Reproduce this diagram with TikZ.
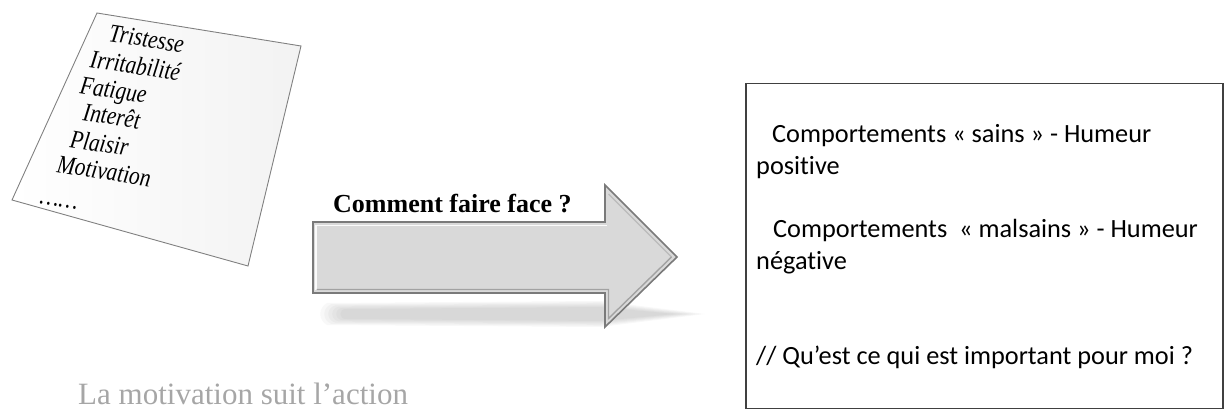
\documentclass[tikz,border=0pt]{standalone}
\usepackage{fontspec}
\setmainfont{Liberation Serif}
\newfontfamily\calib[Ligatures=NoCommon]{Carlito}
\definecolor{arrowfill}{HTML}{D9D9D9}
\definecolor{arrowedge}{HTML}{7A7A7A}
\definecolor{boxedge}{HTML}{404040}
\definecolor{captiongray}{HTML}{A6A6A6}
\definecolor{paperedge}{HTML}{808080}
\tikzset{
  listitem/.style={anchor=base west, inner sep=0pt, rotate=-9, yscale=1.2,
    font=\fontsize{21.5}{25}\selectfont\itshape},
  boxtext/.style={anchor=base west, inner sep=0pt,
    font=\calib\fontsize{26.3}{31}\selectfont},
  arrowshape/.style={fill=arrowfill, draw=arrowedge, line width=1.6pt, line join=miter},
  shadowlayer/.style={fill=black, draw=none},
}
\begin{document}
\begin{tikzpicture}[x=1pt,y=-1pt]
\useasboundingbox (0,0) rectangle (1224,411);

% ---- paper sheet ----
\coordinate (pTL) at (97,13);
\coordinate (pTR) at (301,46);
\coordinate (pBR) at (248,266);
\coordinate (pBL) at (12,200);
\shade[left color=white, right color=black!5] (pTL) -- (pTR) -- (pBR) -- (pBL) -- cycle;
\draw[paperedge, line width=0.9pt] (pTL) -- (pTR) -- (pBR) -- (pBL) -- cycle;

\node[listitem] (l1) at (108,41) {Tristesse};
\node[listitem] (l2) at (89,67) {Irritabilité};
\node[listitem] (l3) at (79,93) {Fatigue};
\node[listitem] (l4) at (82,120) {Interêt};
\node[listitem] (l5) at (69,147) {Plaisir};
\node[listitem] (l6) at (56,172) {Motivation};
\node[listitem] (l7) at (39,203) {……};

% ---- arrow shadow (soft) ----
\foreach \s in {0,2,4,6,8,10}{
  \fill[shadowlayer, opacity=0.028]
    (327+2*\s,303+0.6*\s) -- (600,301+0.6*\s) -- (705-3*\s,314) -- (600,327-0.6*\s) -- (327+2*\s,325-0.6*\s)
    .. controls (318+2*\s,320) and (318+2*\s,308) .. cycle;
}

% ---- arrow ----
\coordinate (aSTL) at (313,222);
\coordinate (aHT) at (605,222);
\coordinate (aHTT) at (605,185);
\coordinate (aTip) at (677,257);
\coordinate (aHBB) at (605,327);
\coordinate (aHB) at (605,293);
\coordinate (aSBL) at (313,293);
\draw[arrowshape] (aSTL) -- (aHT) -- (aHTT) -- (aTip) -- (aHBB) -- (aHB) -- (aSBL) -- cycle;
% bevel highlights and shades
\draw[white, line width=1.6pt, opacity=0.9] (316,290) -- (316,225.5) -- (607,225.5);
\draw[black!45, line width=1.4pt, opacity=0.7] (316.5,289.5) -- (608.5,289.5) -- (608.5,318.5) -- (671.5,257);
\draw[black!35, line width=1.4pt, opacity=0.6] (608.5,194) -- (671.5,257);
\node[anchor=base west, inner sep=0pt, font=\fontsize{26}{30}\selectfont\bfseries] (q) at (333,213) {Comment faire face ?};

% ---- right box ----
\node[draw=boxedge, line width=1.5pt, minimum width=477pt, minimum height=325pt, anchor=north west, inner sep=0pt] (box) at (745,83) {};
\node[boxtext] (b1) at (772,143) {Comportements « sains » - Humeur};
\node[boxtext] (b2) at (756,175) {positive};
\node[boxtext] (b3) at (773,238) {Comportements \ « malsains » - Humeur};
\node[boxtext] (b4) at (756,270) {négative};
\node[boxtext] (b5) at (756,365) {// Qu’est ce qui est important pour moi ?};

% ---- caption ----
\node[anchor=base west, inner sep=0pt, text=captiongray, font=\fontsize{31}{36}\selectfont] (cap) at (78,405) {La motivation suit l’action};
\end{tikzpicture}
\end{document}
